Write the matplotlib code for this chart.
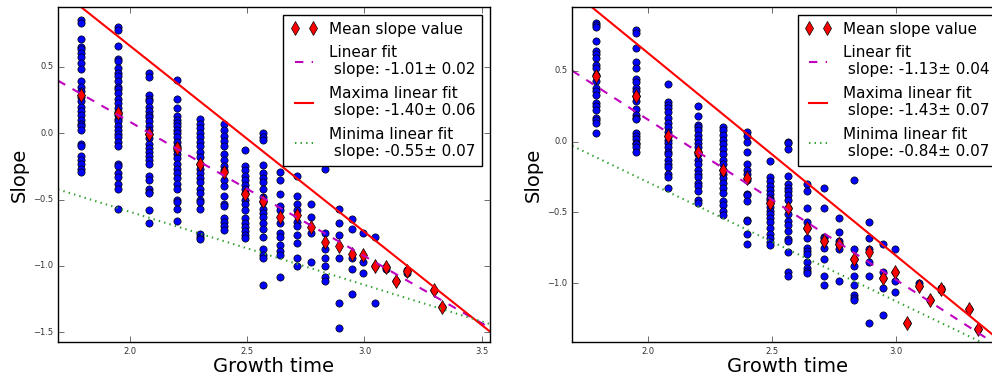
import numpy as np
import matplotlib
matplotlib.use("Agg")
import matplotlib.pyplot as plt

plt.style.use("classic")

# growth time columns (shared by both panels)
growth_time = [1.79, 1.95, 2.08, 2.20, 2.30, 2.40, 2.49, 2.565, 2.64, 2.71, 2.77,
               2.83, 2.89, 2.945, 2.995, 3.045, 3.09, 3.135, 3.18, 3.295, 3.33]

# left panel: slope values per column
slopes_left = [
    [0.85, 0.83, 0.71, 0.65, 0.63, 0.60, 0.57, 0.53, 0.48, 0.39, 0.35, 0.32, 0.27, 0.24,
     0.20, 0.17, 0.14, 0.10, 0.07, 0.05, 0.02, -0.08, -0.10, -0.17, -0.20, -0.23, -0.27, -0.29],
    [0.80, 0.78, 0.66, 0.56, 0.54, 0.49, 0.45, 0.43, 0.39, 0.35, 0.33, 0.30, 0.26, 0.23, 0.19,
     0.16, 0.14, 0.11, 0.09, 0.05, 0.02, -0.01, -0.03, -0.07, -0.10, -0.23, -0.25, -0.30, -0.33,
     -0.38, -0.42, -0.57],
    [0.45, 0.42, 0.29, 0.26, 0.24, 0.20, 0.17, 0.14, 0.12, 0.09, 0.05, 0.02, -0.01, -0.04, -0.08,
     -0.11, -0.14, -0.17, -0.20, -0.23, -0.32, -0.35, -0.42, -0.44, -0.45, -0.58, -0.68],
    [0.40, 0.26, 0.19, 0.13, 0.10, 0.08, 0.05, 0.02, 0.00, -0.03, -0.07, -0.10, -0.13, -0.16,
     -0.19, -0.23, -0.27, -0.30, -0.34, -0.38, -0.42, -0.50, -0.52, -0.57, -0.66],
    [0.11, 0.07, 0.04, 0.00, -0.03, -0.07, -0.10, -0.14, -0.18, -0.23, -0.27, -0.30, -0.34,
     -0.37, -0.42, -0.45, -0.50, -0.52, -0.57, -0.76, -0.78, -0.80],
    [0.07, 0.02, -0.02, -0.06, -0.10, -0.16, -0.20, -0.25, -0.28, -0.35, -0.40, -0.47, -0.53,
     -0.55, -0.64, -0.67, -0.70, -0.73],
    [-0.13, -0.25, -0.28, -0.32, -0.35, -0.39, -0.42, -0.45, -0.50, -0.53, -0.58, -0.64, -0.68,
     -0.71, -0.74, -0.77, -0.79],
    [0.00, -0.03, -0.05, -0.24, -0.30, -0.34, -0.37, -0.42, -0.48, -0.52, -0.57, -0.60, -0.63,
     -0.68, -0.72, -0.78, -0.87, -0.92, -0.94, -1.14],
    [-0.29, -0.35, -0.46, -0.55, -0.58, -0.68, -0.75, -0.78, -0.84, -0.89, -0.92, -1.08],
    [-0.32, -0.47, -0.53, -0.58, -0.67, -0.70, -0.77, -0.83, -0.94, -1.00],
    [-0.53, -0.63, -0.75, -0.97],
    [-0.27, -0.75, -0.87, -0.94, -1.00, -1.08, -1.11],
    [-0.57, -0.68, -0.77, -0.94, -1.28, -1.47],
    [-0.65, -0.72, -0.94, -1.02, -1.21],
    [-0.75, -0.97, -1.05],
    [-0.78, -1.00, -1.28],
    [-1.01, -1.02],
    [-1.11],
    [-1.03, -1.05],
    [-1.18],
    [-1.31],
]
mean_left = [0.29, 0.15, -0.01, -0.11, -0.23, -0.29, -0.46, -0.51, -0.63, -0.62, -0.71,
             -0.82, -0.85, -0.91, -0.92, -1.00, -1.01, -1.11, -1.04, -1.18, -1.31]

# right panel
slopes_right = [
    [0.84, 0.82, 0.81, 0.71, 0.64, 0.62, 0.59, 0.54, 0.52, 0.47, 0.43, 0.38, 0.36, 0.33, 0.27,
     0.25, 0.22, 0.17, 0.15, 0.13, 0.06],
    [0.79, 0.77, 0.66, 0.56, 0.52, 0.44, 0.42, 0.38, 0.36, 0.32, 0.29, 0.23, 0.19, 0.17, 0.16,
     0.06, 0.04, 0.02, -0.01, -0.02, -0.04, -0.07],
    [0.41, 0.28, 0.26, 0.24, 0.21, 0.17, 0.13, 0.10, 0.07, 0.04, 0.01, -0.01, -0.04, -0.07,
     -0.09, -0.13, -0.16, -0.18, -0.23, -0.25, -0.33],
    [0.25, 0.18, 0.12, 0.10, 0.08, 0.05, 0.02, -0.01, -0.04, -0.07, -0.09, -0.13, -0.16, -0.20,
     -0.23, -0.25, -0.29, -0.31, -0.35, -0.41, -0.43],
    [0.10, 0.08, 0.05, 0.01, -0.02, -0.05, -0.09, -0.13, -0.16, -0.20, -0.23, -0.26, -0.29,
     -0.33, -0.36, -0.42, -0.45, -0.49, -0.52],
    [0.07, 0.04, 0.00, -0.07, -0.16, -0.20, -0.23, -0.27, -0.37, -0.38, -0.42, -0.55, -0.56,
     -0.65, -0.72],
    [-0.14, -0.25, -0.28, -0.31, -0.34, -0.37, -0.40, -0.41, -0.43, -0.46, -0.49, -0.51, -0.54,
     -0.57, -0.61, -0.65, -0.68, -0.71, -0.73],
    [0.00, -0.01, -0.05, -0.24, -0.30, -0.33, -0.35, -0.38, -0.41, -0.47, -0.51, -0.56, -0.59,
     -0.63, -0.69, -0.70, -0.78, -0.92, -0.95],
    [-0.30, -0.35, -0.47, -0.57, -0.61, -0.68, -0.75, -0.77, -0.79, -0.85, -0.89, -0.91, -0.93],
    [-0.33, -0.47, -0.67, -0.68, -0.70, -0.75, -0.83, -0.95, -1.01],
    [-0.54, -0.64, -0.70, -0.72, -0.76, -0.98],
    [-0.27, -0.76, -0.83, -0.88, -0.95, -1.01, -1.08, -1.10, -1.12],
    [-0.57, -0.68, -0.76, -0.85, -0.95, -1.28],
    [-0.72, -0.92, -0.96, -1.03, -1.22],
    [-0.76, -0.92, -0.98, -1.06],
    [-1.28],
    [-1.00, -1.02],
    [-1.12],
    [-1.03, -1.05],
    [-1.18],
    [-1.32],
]
mean_right = [0.46, 0.32, 0.04, -0.07, -0.20, -0.26, -0.43, -0.47, -0.61, -0.70, -0.72,
              -0.83, -0.78, -0.96, -0.92, -1.28, -1.02, -1.12, -1.04, -1.18, -1.32]

# fits: linear (means), maxima, minima -> slope, error, intercept
fit_names = ["Linear fit", "Maxima linear fit", "Minima linear fit"]
fit_styles = ["--", "-", ":"]
fit_colors = ["m", "r", "#2fa02f"]
fit_slope_left = [-1.01, -1.40, -0.55]
fit_err_left = [0.02, 0.06, 0.07]
fit_icept_left = [2.104, 3.456, 0.507]
fit_slope_right = [-1.13, -1.43, -0.84]
fit_err_right = [0.04, 0.07, 0.07]
fit_icept_right = [2.414, 3.484, 1.393]


def draw_panel(ax, slopes, means, f_slope, f_err, f_icept, xlim, ylim):
    for x, ys in zip(growth_time, slopes):
        ax.plot([x] * len(ys), ys, "bo", ms=5.2, mew=0.5)
    ax.plot(growth_time, means, "rd", ms=7, mew=0.5, label="Mean slope value")
    xs = np.array(xlim)
    for name, st, c, s, e, b in zip(fit_names, fit_styles, fit_colors, f_slope, f_err, f_icept):
        ax.plot(xs, s * xs + b, ls=st, color=c, lw=1.5,
                label=f"{name}\n slope: {s:.2f}\u00b1 {e:.2f}")
    ax.set_xlim(xlim)
    ax.set_ylim(ylim)
    ax.set_xlabel("Growth time", fontsize=14, labelpad=1)
    ax.set_ylabel("Slope", fontsize=14, labelpad=3)
    ax.tick_params(labelsize=6, pad=3.5, colors="#333333")
    ax.legend(loc="upper right", fontsize=11, numpoints=2, handlelength=1.8,
              labelspacing=0.55, borderpad=0.45, handletextpad=0.7)


fig = plt.figure(figsize=(9.92, 3.76), dpi=100, facecolor="white")
ax1 = fig.add_axes([0.0585, 0.0904, 0.435, 0.891])
ax2 = fig.add_axes([0.5769, 0.0904, 0.4348, 0.891])

draw_panel(ax1, slopes_left, mean_left, fit_slope_left, fit_err_left, fit_icept_left,
           (1.692, 3.534), (-1.573, 0.95))
draw_panel(ax2, slopes_right, mean_right, fit_slope_right, fit_err_right, fit_icept_right,
           (1.694, 3.433), (-1.414, 0.95))

fig.savefig("out.png", dpi=100, facecolor="white")
